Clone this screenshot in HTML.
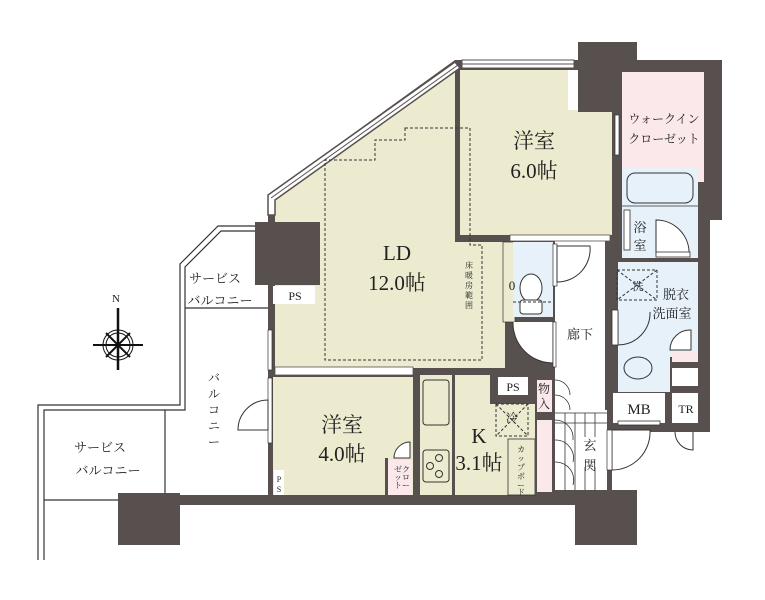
<!DOCTYPE html>
<html><head><meta charset="utf-8"><style>
html,body{margin:0;padding:0;background:#fff}
svg{display:block}
text{font-family:"Liberation Serif","Noto Serif CJK SC","Noto Sans CJK JP",serif;fill:#222}
</style></head><body>
<svg width="765" height="600" viewBox="0 0 765 600" xmlns="http://www.w3.org/2000/svg">
<g fill="none" stroke="#333" stroke-width="1.2">
<path d="M258,226 L218,226 L180,264 L180,405 L38,405 L38,560"/>
<path d="M258,231 L221,231 L185,267 L185,410 L44,410 L44,560"/>
<line x1="185" y1="308" x2="268" y2="308"/>
<line x1="44" y1="500" x2="120" y2="500"/>
<line x1="165" y1="410" x2="165" y2="495"/>
</g>
<path d="M455,60 L722,60 L722,220 L710,220 L710,432 L700,432 L700,395 L612,395 L612,490 L637,490 L637,545 L575,545 L575,505 L180,505 L180,495 L268,495 L268,195 Z" fill="#57504f"/>
<rect x="603" y="238" width="107" height="194" fill="#57504f"/>
<path d="M455,68 L275,200 L275,368 L505,368 L505,242 L455,242 Z" fill="#edebcf"/>
<rect x="460" y="70" width="152" height="165" fill="#edebcf"/>
<path d="M455,62 L268,195 L268,215 L275,215 L275,200 L460,68 Z" fill="#fff" stroke="#57504f" stroke-width="1.5"/>
<line x1="458" y1="65" x2="271" y2="198" stroke="#57504f" stroke-width="1"/>
<rect x="462" y="60" width="112" height="8" fill="#fff" stroke="#57504f"/>
<line x1="462" y1="64" x2="574" y2="64" stroke="#57504f"/>
<rect x="578" y="42" width="59" height="70" fill="#57504f"/>
<rect x="568" y="70" width="10" height="40" fill="#fff"/>
<rect x="622" y="72" width="82" height="110" fill="#fbe8ea"/>
<rect x="622" y="168" width="76" height="45" fill="#e6f1f9"/>
<rect x="627" y="173" width="66" height="30" rx="8" fill="#e6f1f9" stroke="#333"/>
<rect x="622" y="206" width="76" height="52" fill="#e6f1f9"/>
<line x1="622" y1="206" x2="698" y2="206" stroke="#333" stroke-width="0.8"/>
<rect x="624" y="210" width="6" height="40" fill="#fff" stroke="#333" stroke-width="0.8"/>
<path d="M656,255 L656,220 A33,33 0 0 1 689,255" fill="#fff" stroke="#333"/>
<rect x="656" y="252" width="34" height="5" fill="#fff" stroke="#333" stroke-width="0.8"/>
<rect x="618" y="262" width="80" height="95" fill="#e6f1f9"/>
<rect x="618" y="352" width="52" height="40" fill="#e6f1f9"/>
<ellipse cx="638" cy="368" rx="14" ry="11" fill="none" stroke="#333"/>
<rect x="672" y="352" width="26" height="10" fill="#fbe8ea"/>
<rect x="672" y="368" width="26" height="18" fill="#fff"/>
<rect x="617" y="270" width="40" height="30" fill="none" stroke="#333" stroke-dasharray="3,2"/>
<line x1="617" y1="270" x2="657" y2="300" stroke="#333" stroke-dasharray="3,2"/>
<line x1="657" y1="270" x2="617" y2="300" stroke="#333" stroke-dasharray="3,2"/>
<path d="M618,312 L618,345 A32,32 0 0 0 650,312" fill="none" stroke="#333"/>
<rect x="612" y="310" width="6" height="35" fill="#fff" stroke="#333" stroke-width="0.8"/>
<path d="M691,330 A20,20 0 0 0 670,350 L691,350 Z" fill="#fff" stroke="#333"/>
<rect x="613" y="393" width="52" height="30" fill="#fff"/>
<rect x="672" y="393" width="26" height="30" fill="#fff"/>
<rect x="618" y="421" width="42" height="4" fill="#fff" stroke="#333" stroke-width="0.8"/>
<path d="M693,432 L693,450 A18,18 0 0 1 675,432" fill="#fff" stroke="#333"/>
<rect x="555" y="240" width="50" height="170" fill="#fff"/>
<rect x="510" y="235" width="100" height="6" fill="#fff" stroke="#57504f" stroke-width="0.8"/>
<rect x="503" y="242" width="12" height="80" fill="#edebcf" stroke="#333" stroke-width="0.7"/>
<rect x="513" y="242" width="40" height="75" fill="#e6f1f9"/>
<ellipse cx="531" cy="288" rx="11" ry="14" fill="#fff" stroke="#333"/>
<rect x="520" y="300" width="22" height="14" rx="3" fill="#fff" stroke="#333"/>
<line x1="513" y1="302" x2="553" y2="302" stroke="#333" stroke-dasharray="3,2"/>
<rect x="553" y="244" width="4" height="42" fill="#fff" stroke="#333" stroke-width="0.7"/>
<path d="M557,246 L590,246 A33,33 0 0 1 557,282 Z" fill="#fff" stroke="#333"/>
<path d="M553,322 L553,363 A40,40 0 0 1 513,322" fill="#fff" stroke="#333"/>
<rect x="553" y="322" width="3" height="45" fill="#fff" stroke="#333" stroke-width="0.7"/>
<rect x="255" y="222" width="65" height="63" fill="#57504f"/>
<rect x="273" y="286" width="42" height="18" fill="#fff"/>
<rect x="268" y="330" width="4" height="40" fill="#fff" stroke="#333" stroke-width="0.7"/>
<rect x="268" y="378" width="4" height="65" fill="#fff" stroke="#333" stroke-width="0.7"/>
<path d="M268,400 A30,30 0 0 0 238,430 L268,430 Z" fill="#fff" stroke="#333"/>
<rect x="273" y="377" width="140" height="118" fill="#edebcf"/>
<rect x="275" y="367" width="138" height="8" fill="#fff" stroke="#57504f" stroke-width="0.8"/>
<rect x="274" y="470" width="10" height="25" fill="#fff"/>
<rect x="388" y="460" width="24" height="35" fill="#fbe8ea"/>
<rect x="385" y="458" width="3" height="37" fill="#57504f"/>
<path d="M394,458 A16,16 0 0 1 410,442 L410,458 Z" fill="#fff" stroke="#333"/>
<rect x="420" y="375" width="115" height="120" fill="#edebcf"/>
<rect x="413" y="375" width="7" height="120" fill="#57504f"/>
<rect x="452" y="375" width="3" height="120" fill="#57504f"/>
<rect x="423" y="380" width="26" height="45" rx="3" fill="none" stroke="#333"/>
<rect x="423" y="450" width="26" height="32" rx="3" fill="none" stroke="#333"/>
<circle cx="430" cy="466" r="3.5" fill="none" stroke="#333"/><circle cx="439" cy="458" r="3.5" fill="none" stroke="#333"/><circle cx="439" cy="474" r="3.5" fill="none" stroke="#333"/>
<rect x="490" y="372" width="45" height="32" fill="#57504f"/>
<rect x="498" y="377" width="30" height="18" fill="#fff"/>
<rect x="496" y="404" width="32" height="32" fill="none" stroke="#333" stroke-dasharray="3,2"/>
<line x1="496" y1="404" x2="528" y2="436" stroke="#333" stroke-dasharray="3,2"/>
<line x1="528" y1="404" x2="496" y2="436" stroke="#333" stroke-dasharray="3,2"/>
<rect x="508" y="439" width="27" height="56" fill="#edebcf" stroke="#333" stroke-width="0.8"/>
<rect x="535" y="375" width="20" height="120" fill="#57504f"/>
<rect x="537" y="380" width="15" height="32" fill="#fbe8ea"/>
<rect x="537" y="420" width="15" height="72" fill="#fbe8ea"/>
<rect x="555" y="410" width="52" height="80" fill="#fff"/>
<g stroke="#333" stroke-width="0.8" fill="none">
<line x1="555" y1="413" x2="607" y2="413"/>
<line x1="565" y1="413" x2="565" y2="490"/><line x1="575" y1="413" x2="575" y2="490"/><line x1="585" y1="413" x2="585" y2="490"/><line x1="595" y1="413" x2="595" y2="490"/>
<line x1="555" y1="423" x2="607" y2="423"/>
<path d="M555,380 A15,15 0 0 1 570,395 M555,395 A15,15 0 0 1 570,410"/>
<path d="M555,420 A18,18 0 0 1 573,440 M555,440 A18,18 0 0 1 573,462 M555,462 A18,18 0 0 1 573,485"/>
</g>
<rect x="580" y="437" width="25" height="30" fill="#fff"/>
<path d="M612,430 L650,430 A38,38 0 0 1 612,470 Z" fill="#fff" stroke="#333"/>
<rect x="607" y="430" width="5" height="40" fill="#fff" stroke="#333" stroke-width="0.7"/>
<rect x="615" y="115" width="4" height="40" fill="#fff" stroke="#333" stroke-width="0.7"/>
<path d="M405,128 L470,128 L470,245 L482,245 L482,360 L325,360 L325,160 L375,160 L375,140 L405,140 Z" fill="none" stroke="#333" stroke-dasharray="3,2"/>
<rect x="118" y="493" width="62" height="52" fill="#57504f"/>
<rect x="575" y="490" width="62" height="55" fill="#57504f"/>
<g stroke="#111" fill="none">
<circle cx="118" cy="345" r="15"/><circle cx="118" cy="345" r="12"/>
<line x1="93" y1="345" x2="143" y2="345" stroke-width="2"/>
<line x1="118" y1="308" x2="118" y2="370" stroke-width="2.5"/>
<line x1="106" y1="333" x2="130" y2="357" stroke-width="2"/><line x1="130" y1="333" x2="106" y2="357" stroke-width="2"/>
</g>
<text x="112" y="302" font-size="11">N</text>
<g font-size="21" text-anchor="middle">
<text x="534" y="148">洋室</text><text x="534" y="178">6.0帖</text>
<text x="397" y="260">LD</text><text x="397" y="290">12.0帖</text>
<text x="342" y="432">洋室</text><text x="342" y="461">4.0帖</text>
<text x="479" y="443">K</text><text x="479" y="470">3.1帖</text>
</g>
<g font-size="13" text-anchor="middle">
<text x="664" y="123" font-size="12">ウォークイン</text><text x="664" y="143" font-size="12">クローゼット</text>
<text x="640" y="232">浴</text><text x="640" y="250">室</text>
<text x="676" y="299">脱衣</text><text x="672" y="318">洗面室</text>
<text x="580" y="339">廊下</text>
<text x="639" y="414" font-size="15">MB</text><text x="686" y="413" font-size="12">TR</text>
<text x="513" y="391" font-size="12">PS</text>
<text x="295" y="300" font-size="12">PS</text>
<text x="590" y="450">玄</text><text x="590" y="470">関</text>
<text x="215" y="283">サービス</text><text x="220" y="305">バルコニー</text>
<text x="100" y="452">サービス</text><text x="108" y="475">バルコニー</text>
<text x="512" y="290" font-size="13">0</text>
</g>
<g font-size="12" text-anchor="middle">
<text x="544" y="393">物</text><text x="544" y="408">入</text>
<text x="512" y="422">冷</text>
<text x="214" y="382">バ</text><text x="214" y="398">ル</text><text x="214" y="414">コ</text><text x="214" y="430">ニ</text><text x="214" y="446">ー</text>
</g>
<g font-size="8" text-anchor="middle">
<text x="469" y="268">床</text><text x="469" y="278">暖</text><text x="469" y="288">房</text><text x="469" y="298">範</text><text x="469" y="308">囲</text>
<text x="521" y="452">カ</text><text x="521" y="461">ッ</text><text x="521" y="470">プ</text><text x="521" y="479">ボ</text><text x="521" y="488">ー</text><text x="521" y="495">ド</text>
<text x="279" y="482">P</text><text x="279" y="492">S</text>
<text x="406" y="472">ク</text><text x="406" y="480">ロ</text><text x="406" y="488">ー</text>
<text x="398" y="472">ゼ</text><text x="398" y="480">ッ</text><text x="398" y="488">ト</text>
<text x="638" y="290" font-size="11">洗</text>
</g>
</svg>
</body></html>
